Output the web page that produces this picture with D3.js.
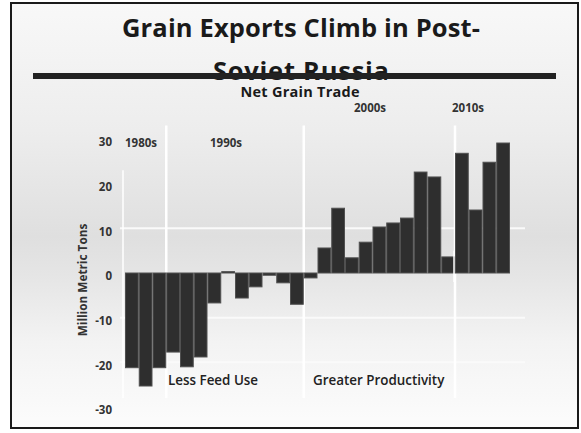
<!DOCTYPE html>
<html><head><meta charset="utf-8">
<script src="https://cdn.jsdelivr.net/npm/d3@7"></script>
<style>html,body{margin:0;padding:0;background:#fff;}svg{display:block;}</style>
</head><body>
<script>
const years = [1987,1988,1989,1990,1991,1992,1993,1994,1995,1996,1997,1998,1999,2000,2001,2002,2003,2004,2005,2006,2007,2008,2009,2010,2011,2012,2013,2014];
const netTrade = [-21.2,-25.3,-21.2,-17.7,-21.0,-18.8,-6.7,0.3,-5.6,-3.1,-0.5,-2.2,-7.0,-1.1,5.6,14.5,3.4,6.9,10.3,11.2,12.3,22.6,21.5,3.6,26.8,14.1,24.8,29.1];
const yTicks = [30,20,10,0,-10,-20,-30];
const decadeStarts = [1987,1990,2000,2011];
const decadeLabels = ["1980s","1990s","2000s","2010s"];
const titleLines = ["Grain Exports Climb in Post-","Soviet Russia"];
const subtitle = "Net Grain Trade";
const yTitle = "Million Metric Tons";
const notes = ["Less Feed Use","Greater Productivity"];

const W=581,H=433;
const svg=d3.select("body").append("svg").attr("width",W).attr("height",H);
const defs=svg.append("defs");
const g=defs.append("linearGradient").attr("id","bg").attr("x1",0).attr("y1",0).attr("x2",0).attr("y2",1);
[[0,"#f8f8f8"],[0.3,"#ededed"],[0.55,"#dfdfdf"],[0.64,"#e5e5e5"],[0.8,"#f3f3f3"],[1,"#fcfcfc"]].forEach(s=>g.append("stop").attr("offset",s[0]).attr("stop-color",s[1]));

svg.append("rect").attr("x",11).attr("y",3).attr("width",567).attr("height",425).attr("fill","url(#bg)").attr("stroke","#1a1a1a").attr("stroke-width",2);

const x=d3.scaleBand().domain(years).range([125,510]).padding(0);
const y=d3.scaleLinear().domain([-30,30]).range([407,139]);

// gridlines (white)
svg.append("g").selectAll("line").data([10,-10,-20]).join("line")
 .attr("x1",120).attr("x2",525).attr("y1",d=>y(d)).attr("y2",d=>y(d))
 .attr("stroke","#fafafa").attr("stroke-width",2);
// vertical white separators
svg.append("g").selectAll("line").data(decadeStarts).join("line")
 .attr("x1",d=>x(d)-(d===1987?2:0)).attr("x2",d=>x(d)-(d===1987?2:0))
 .attr("y1",d=>d===1987?y(23):y(33)).attr("y2",y(-28))
 .attr("stroke","#ffffff").attr("stroke-width",d=>d===1987?1.5:2.5);

// bars
svg.append("g").selectAll("rect").data(years).join("rect")
 .attr("x",d=>x(d)+0.5).attr("width",x.bandwidth()-1)
 .attr("y",(d,i)=>y(Math.max(0,netTrade[i])))
 .attr("height",(d,i)=>Math.abs(y(netTrade[i])-y(0)))
 .attr("fill","#2e2e2e").attr("stroke","#505050").attr("stroke-width",1);

svg.append("line").attr("x1",x(2011)-1).attr("x2",x(2011)-1).attr("y1",y(5)).attr("y2",y(-2)).attr("stroke","#fff").attr("stroke-width",1.5);

// y axis
const ax=svg.append("g").attr("transform","translate(112,0)")
 .call(d3.axisLeft(y).tickValues(yTicks).tickSize(0).tickPadding(0).tickFormat(d=>String(d)));
ax.select(".domain").remove();
ax.selectAll("text").attr("font-family","Open Sans").attr("font-weight",700).attr("font-size",11.5).attr("fill","#333").attr("dy","0.6em");

svg.append("text").attr("transform","translate(87,280) rotate(-90)")
 .attr("text-anchor","middle").attr("font-family","Open Sans").attr("font-weight",700).attr("font-size",11.8).attr("fill","#333").text(yTitle);

// decade labels
const decY=[147,147,112,112];
svg.append("g").selectAll("text").data(decadeLabels).join("text")
 .attr("x",(d,i)=>[125,210,354,452][i]).attr("y",(d,i)=>decY[i])
 .attr("font-family","Open Sans").attr("font-weight",700).attr("font-size",11.5).attr("fill","#333").text(d=>d);

// notes
svg.append("g").selectAll("text").data(notes).join("text")
 .attr("x",(d,i)=>[168,313][i]).attr("y",385)
 .attr("font-family","Open Sans").attr("font-weight",600).attr("font-size",13.4).attr("fill","#222").text(d=>d);

// titles
svg.append("text").attr("x",301).attr("y",37).attr("text-anchor","middle")
 .attr("font-family","Open Sans").attr("font-weight",700).attr("font-size",25.5).attr("fill","#1a1a1a").attr("textLength",358).text(titleLines[0]);
svg.append("text").attr("x",301).attr("y",80).attr("text-anchor","middle")
 .attr("font-family","Open Sans").attr("font-weight",700).attr("font-size",25.5).attr("fill","#1a1a1a").attr("textLength",176).text(titleLines[1]);
svg.append("rect").attr("x",33).attr("y",73).attr("width",523).attr("height",6).attr("fill","#222");
svg.append("text").attr("x",300).attr("y",97).attr("text-anchor","middle")
 .attr("font-family","Open Sans").attr("font-weight",700).attr("font-size",14.5).attr("fill","#1a1a1a").attr("textLength",119).text(subtitle);
</script>
</body></html>
